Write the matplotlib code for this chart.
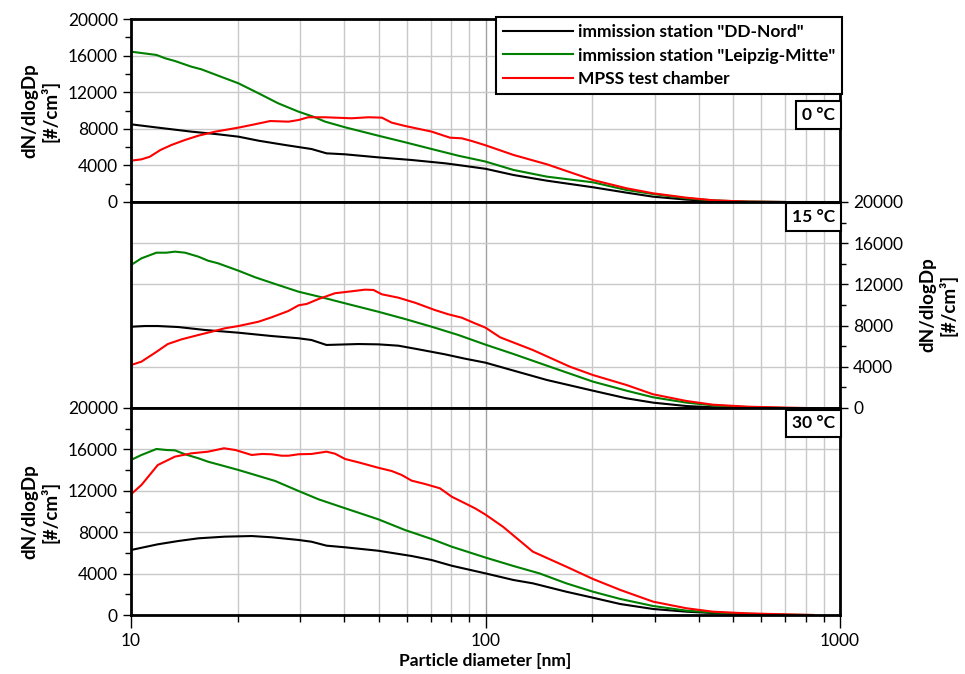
import matplotlib
matplotlib.use("Agg")
import matplotlib.pyplot as plt
from matplotlib.ticker import MultipleLocator, LogLocator, NullFormatter

plt.rcParams['font.family'] = ['Lato', 'DejaVu Sans']

labels = ['immission station "DD-Nord"', 'immission station "Leipzig-Mitte"', 'MPSS test chamber']
colors = ['black', '#008000', '#ff0000']
temps = ['0 °C', '15 °C', '30 °C']

# ---- 0 °C ----
d0_black = [10, 11.9, 14.8, 17.6, 20.1, 22.9, 27.2, 32.3, 35.6, 40.2, 49.8, 61.9, 76.9, 83.8, 100, 120, 149, 201, 250, 297, 369, 438, 546, 700]
n0_black = [8490, 8130, 7690, 7400, 7140, 6700, 6230, 5790, 5320, 5210, 4880, 4590, 4230, 4040, 3630, 2950, 2330, 1610, 1020, 580, 260, 110, 20, 0]
d0_green = [10, 11.8, 12.5, 13.3, 14.8, 15.8, 16.9, 20.1, 22.9, 26.0, 29.7, 32.7, 35.3, 40.2, 49.8, 59.3, 70.5, 83.8, 100, 120, 149, 201, 250, 297, 369, 438, 546, 700]
n0_green = [16430, 16070, 15700, 15410, 14790, 14500, 14070, 12970, 11880, 10790, 9870, 9320, 8780, 8160, 7250, 6530, 5790, 5060, 4420, 3500, 2770, 2150, 1310, 870, 400, 180, 40, 0]
d0_red = [10, 10.7, 11.3, 12.1, 13.0, 14.2, 15.5, 17.3, 20.1, 21.9, 24.7, 27.8, 29.7, 31.6, 35.3, 41.9, 46.7, 51.0, 54.4, 59.3, 70.5, 79.4, 85.7, 91.4, 100, 120, 149, 201, 250, 297, 369, 438, 546, 700]
n0_red = [4520, 4660, 4950, 5680, 6230, 6780, 7250, 7690, 8130, 8420, 8850, 8780, 8960, 9260, 9260, 9150, 9260, 9220, 8670, 8310, 7690, 7030, 6960, 6670, 6200, 5140, 4120, 2400, 1500, 950, 470, 190, 40, 0]

# ---- 15 °C ----
d15_black = [10, 10.95, 11.9, 13.6, 16.2, 20.1, 24.9, 29.7, 32.3, 35.6, 43.8, 49.8, 56.8, 64.6, 76.9, 87.5, 100, 120, 149, 201, 250, 297, 369, 438, 546]
n15_black = [7890, 7960, 7960, 7860, 7570, 7310, 6990, 6770, 6600, 6120, 6210, 6180, 6050, 5700, 5210, 4790, 4400, 3630, 2720, 1680, 940, 520, 190, 70, 0]
d15_green = [10, 10.7, 11.8, 12.6, 13.3, 14.2, 15.5, 16.5, 17.6, 20.1, 22.4, 25.5, 29.7, 34.5, 40.2, 49.8, 59.3, 70.5, 83.8, 100, 120, 149, 201, 250, 297, 369, 438, 546, 700]
n15_green = [13880, 14530, 15080, 15080, 15180, 15080, 14690, 14300, 14050, 13330, 12690, 12040, 11290, 10750, 10160, 9350, 8640, 7890, 7090, 6150, 5240, 4110, 2560, 1680, 1040, 520, 260, 100, 0]
d15_red = [10, 10.7, 11.7, 12.7, 13.9, 15.5, 16.9, 18.4, 20.1, 22.9, 24.9, 27.8, 29.7, 31.3, 33.8, 37.6, 41.9, 45.7, 48.3, 51.0, 56.8, 63.3, 72.0, 78.5, 85.7, 93.4, 100, 110, 136, 173, 201, 250, 297, 369, 438, 546, 700, 800]
n15_red = [4170, 4500, 5370, 6210, 6670, 7090, 7410, 7740, 7960, 8380, 8800, 9420, 9970, 10100, 10580, 11140, 11330, 11490, 11460, 11040, 10710, 10220, 9510, 9100, 8770, 8220, 7800, 6860, 5630, 4010, 3200, 2230, 1330, 680, 320, 130, 40, 0]

# ---- 30 °C ----
d30_black = [10, 11.9, 13.6, 15.5, 18.4, 21.9, 24.9, 29.7, 32.3, 35.6, 40.2, 49.8, 61.9, 70.5, 80.3, 100, 120, 136, 169, 201, 240, 297, 369, 438, 546, 700]
n30_black = [6280, 6830, 7150, 7410, 7570, 7630, 7510, 7250, 7080, 6700, 6540, 6210, 5700, 5310, 4760, 4020, 3380, 3060, 2250, 1670, 1060, 580, 320, 190, 90, 0]
d30_green = [10, 10.7, 11.8, 12.6, 13.3, 14.2, 15.5, 16.5, 18.0, 20.1, 22.4, 25.5, 29.7, 33.8, 40.2, 49.8, 59.3, 70.5, 80.3, 100, 120, 142, 169, 201, 240, 297, 369, 438, 546, 700, 840]
n30_green = [14980, 15460, 16040, 15940, 15910, 15530, 15140, 14810, 14460, 14010, 13530, 12950, 11980, 11180, 10310, 9250, 8210, 7340, 6600, 5550, 4730, 4020, 3060, 2250, 1550, 870, 420, 240, 120, 30, 0]
d30_red = [10, 10.7, 11.9, 13.3, 14.8, 16.5, 18.3, 19.7, 21.9, 23.4, 24.9, 26.6, 27.8, 29.7, 32.3, 35.6, 37.6, 40.2, 43.8, 49.8, 54.4, 58.0, 61.9, 67.5, 74.4, 80.3, 85.7, 93.4, 100, 112, 136, 169, 201, 240, 297, 369, 438, 546, 723, 840]
n30_red = [11660, 12560, 14490, 15300, 15620, 15780, 16110, 15940, 15460, 15560, 15530, 15390, 15390, 15530, 15560, 15780, 15590, 15070, 14750, 14230, 13910, 13530, 12980, 12660, 12240, 11430, 10950, 10310, 9700, 8530, 6120, 4670, 3480, 2420, 1290, 650, 320, 160, 50, 0]

panels = [
    [(d0_black, n0_black), (d0_green, n0_green), (d0_red, n0_red)],
    [(d15_black, n15_black), (d15_green, n15_green), (d15_red, n15_red)],
    [(d30_black, n30_black), (d30_green, n30_green), (d30_red, n30_red)],
]

fig = plt.figure(figsize=(9.65, 6.74), dpi=100)
left, width = 131 / 965, 709 / 965
ax0 = fig.add_axes([left, 1 - 202 / 674, width, 183 / 674])
ax1 = fig.add_axes([left, 1 - 408 / 674, width, 206 / 674])
ax2 = fig.add_axes([left, 1 - 615 / 674, width, 207 / 674])
axes = [ax0, ax1, ax2]

fs = 12.5
ylab = 'dN/dlogDp\n[#/cm³]'
for i, ax in enumerate(axes):
    for (d, n), c, lab in zip(panels[i], colors, labels):
        ax.plot(d, n, color=c, lw=1.5, label=lab)
    ax.set_xscale('log')
    ax.set_xlim(10, 1000)
    ax.set_ylim(0, 20000)
    ax.yaxis.set_major_locator(MultipleLocator(4000))
    ax.yaxis.set_minor_locator(MultipleLocator(2000))
    ax.xaxis.set_minor_locator(LogLocator(base=10, subs=range(2, 10)))
    ax.xaxis.set_minor_formatter(NullFormatter())
    ax.grid(True, which='minor', axis='x', color='#c8c8c8', lw=1.0)
    ax.grid(True, which='major', axis='x', color='#a0a0a0', lw=1.0)
    ax.grid(True, which='major', axis='y', color='#c8c8c8', lw=1.0)
    ax.set_axisbelow(True)
    for s in ax.spines.values():
        s.set_linewidth(2.0)
    ax.tick_params(axis='both', which='major', direction='out', length=6, width=1.0, labelsize=fs)
    ax.tick_params(axis='both', which='minor', direction='out', length=4, width=1.0)
    ax.set_xticks([10, 100, 1000])
    ax.set_xticklabels(['10', '100', '1000'])
    if i < 2:
        ax.tick_params(axis='x', which='both', bottom=False, labelbottom=False)
    else:
        ax.tick_params(axis='x', which='major', length=9, pad=4)
        ax.tick_params(axis='x', which='minor', length=5)
    if i == 1:
        ax.yaxis.tick_right()
        ax.yaxis.set_label_position('right')
        ax.set_ylabel(ylab, fontsize=13.5, fontweight='bold', labelpad=12, rotation=90,
                      linespacing=1.1)
    else:
        ax.set_ylabel(ylab, fontsize=13.5, fontweight='bold', labelpad=6, linespacing=1.1)

    ytop = 0.52 if i == 0 else 0.965
    ax.text(0.993, ytop, temps[i], transform=ax.transAxes, ha='right', va='top',
            fontsize=fs, fontweight='bold',
            bbox=dict(boxstyle='square,pad=0.33', fc='white', ec='black', lw=1.5))

leg = ax0.legend(loc='upper right', bbox_to_anchor=(1.003, 1.012), frameon=True,
                 fancybox=False, framealpha=1, edgecolor='black',
                 prop={'weight': 'bold', 'size': 12.5}, handlelength=4.0,
                 handletextpad=0.3, borderpad=0.4, labelspacing=0.45, borderaxespad=0)
leg.get_frame().set_linewidth(1.5)

ax2.set_xlabel('Particle diameter [nm]', fontsize=12.5, fontweight='bold', labelpad=3)

fig.savefig('out.png', dpi=100)
